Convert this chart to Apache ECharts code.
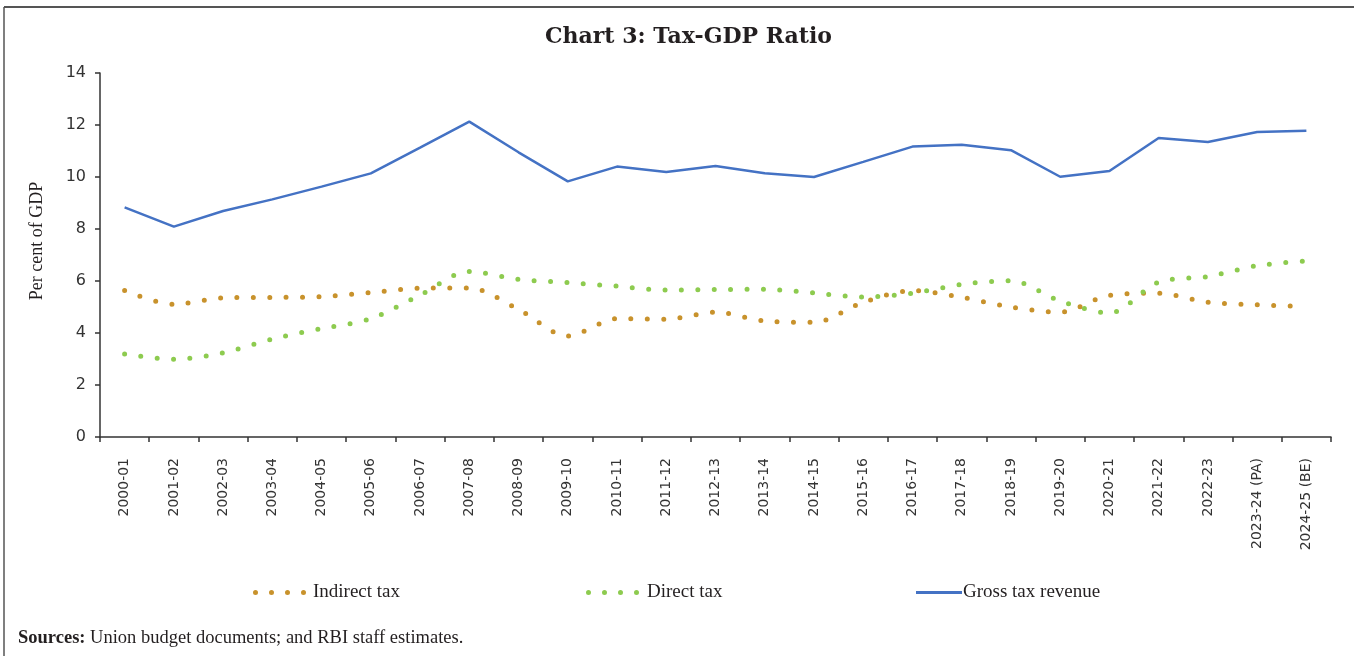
<!DOCTYPE html>
<html>
<head>
<meta charset="utf-8">
<script src="https://cdn.jsdelivr.net/npm/echarts@6/dist/echarts.min.js"></script>
<style>
html,body{margin:0;padding:0;background:#fff;}
#chart{width:1354px;height:656px;}
</style>
</head>
<body>
<div id="chart"></div>
<script>
const categories = ['2000-01','2001-02','2002-03','2003-04','2004-05','2005-06','2006-07','2007-08','2008-09','2009-10','2010-11','2011-12','2012-13','2013-14','2014-15','2015-16','2016-17','2017-18','2018-19','2019-20','2020-21','2021-22','2022-23','2023-24 (PA)','2024-25 (BE)'];
const indirectTax = [5.63,5.10,5.35,5.37,5.40,5.56,5.72,5.73,4.91,3.88,4.55,4.53,4.80,4.46,4.41,5.18,5.63,5.37,5.00,4.80,5.45,5.53,5.18,5.09,5.01];
const directTax = [3.19,2.99,3.24,3.77,4.17,4.55,5.46,6.37,6.06,5.94,5.80,5.65,5.67,5.68,5.54,5.38,5.53,5.87,6.01,5.23,4.77,5.96,6.17,6.59,6.77];
const grossTax = [8.83,8.09,8.69,9.14,9.63,10.14,11.13,12.13,10.95,9.83,10.40,10.19,10.42,10.14,10.00,10.58,11.17,11.24,11.03,10.01,10.23,11.50,11.35,11.73,11.78];
const yTicks = {min:0, max:14, interval:2};

const chart = echarts.init(document.getElementById('chart'), null, {renderer:'canvas'});
const serif = '"Liberation Serif", "DejaVu Serif", serif';
const sans = '"DejaVu Sans", Verdana, sans-serif';
const dotted = (color) => ({color: color, width: 5, type: [0, 16.4], cap: 'round'});
const dotsIcon = 'path://M0,2.5a2.5,2.5 0 1,0 5,0a2.5,2.5 0 1,0 -5,0z M16,2.5a2.5,2.5 0 1,0 5,0a2.5,2.5 0 1,0 -5,0z M32,2.5a2.5,2.5 0 1,0 5,0a2.5,2.5 0 1,0 -5,0z M48,2.5a2.5,2.5 0 1,0 5,0a2.5,2.5 0 1,0 -5,0z';
const lineIcon = 'path://M0,0H46V3H0z';
const legendText = {fontFamily: serif, fontSize: 19, color: '#231f20'};

const option = {
  backgroundColor: '#fff',
  animation: false,
  title: {
    text: 'Chart 3: Tax-GDP Ratio',
    left: 540, top: 21,
    textStyle: {fontFamily: '"DejaVu Serif", serif', fontWeight: 'bold', fontSize: 22, color: '#231f20'}
  },
  legend: [
    {data: [{name: 'Indirect tax', icon: dotsIcon}], left: 248, top: 578, itemWidth: 53, itemHeight: 5, itemGap: 0,
     textStyle: Object.assign({}, legendText, {padding: [0,0,0,2]})},
    {data: [{name: 'Direct tax', icon: dotsIcon}], left: 581, top: 578, itemWidth: 53, itemHeight: 5,
     textStyle: Object.assign({}, legendText, {padding: [0,0,0,3]})},
    {data: [{name: 'Gross tax revenue', icon: lineIcon}], left: 911, top: 578, itemWidth: 46, itemHeight: 3,
     textStyle: Object.assign({}, legendText, {padding: [0,0,0,-4]})}
  ],
  grid: {left: 100, right: 23, top: 73, bottom: 219, containLabel: false},
  xAxis: {
    type: 'category', data: categories, boundaryGap: true,
    axisLine: {lineStyle: {color: '#333', width: 1.5}},
    axisTick: {show: true, length: 5, inside: false, lineStyle: {color: '#333', width: 1.5}},
    axisLabel: {rotate: 90, margin: 21, fontFamily: sans, fontSize: 14, color: '#333', interval: 0}
  },
  yAxis: {
    type: 'value', min: yTicks.min, max: yTicks.max, interval: yTicks.interval,
    axisLine: {show: true, lineStyle: {color: '#333', width: 1.5}},
    axisTick: {show: true, length: 5, lineStyle: {color: '#333', width: 1.5}},
    axisLabel: {margin: 14, fontFamily: sans, fontSize: 16, color: '#333'},
    splitLine: {show: false}
  },
  series: [
    {name: 'Indirect tax', type: 'line', data: indirectTax, smooth: 0.3, symbol: 'none',
     lineStyle: dotted('#C8922C'), itemStyle: {color: '#C8922C'}},
    {name: 'Direct tax', type: 'line', data: directTax, smooth: 0.3, symbol: 'none',
     lineStyle: dotted('#8DCB4F'), itemStyle: {color: '#8DCB4F'}},
    {name: 'Gross tax revenue', type: 'line', data: grossTax, smooth: false, symbol: 'none',
     lineStyle: {color: '#4472C4', width: 2.5}, itemStyle: {color: '#4472C4'}}
  ],
  graphic: [
    {type: 'line', shape: {x1: 4, y1: 7, x2: 1354, y2: 7}, style: {stroke: '#555', lineWidth: 2}},
    {type: 'line', shape: {x1: 4, y1: 7, x2: 4, y2: 656}, style: {stroke: '#555', lineWidth: 1.5}},
    {type: 'text', x: 37, y: 241, rotation: Math.PI / 2,
     style: {text: 'Per cent of GDP', fontFamily: serif, fontSize: 18, fill: '#231f20', align: 'center', verticalAlign: 'middle'}},
    {type: 'text', left: 18, top: 629,
     style: {text: '{b|Sources:} Union budget documents; and RBI staff estimates.',
       fontFamily: serif, fontSize: 18.5, fill: '#231f20',
       rich: {b: {fontWeight: 'bold', fontFamily: serif, fontSize: 18.5, fill: '#231f20'}}}}
  ]
};
chart.setOption(option);
</script>
</body>
</html>
